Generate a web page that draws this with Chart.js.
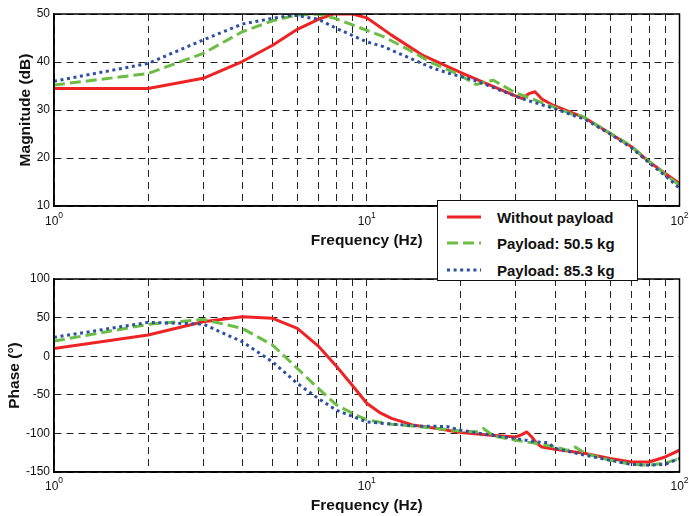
<!DOCTYPE html>
<html>
<head>
<meta charset="utf-8">
<script src="https://cdn.jsdelivr.net/npm/chart.js@4.4.1/dist/chart.umd.min.js"></script>
<style>
  html, body { margin: 0; padding: 0; background: #fff; }
  #wrap { position: relative; width: 689px; height: 516px; overflow: hidden;
          font-family: "Liberation Sans", Arial, sans-serif; }
  #wrap canvas { position: absolute; left: 0; }
  #magCanvas { top: 0; }
  #phaseCanvas { top: 258px; }
  #legend { position: absolute; left: 437px; top: 200px; width: 199px; height: 79px;
            border: 1.6px solid #111; background: #fff; z-index: 5; }
  #legend .row { position: absolute; left: 0; height: 20px; display: flex; align-items: center; }
  #legend .row svg { margin-left: 9px; }
  #legend .row span { margin-left: 16px; font-weight: bold; font-size: 15px; color: #111; white-space: nowrap; }
</style>
</head>
<body>
<div id="wrap">
  <canvas id="magCanvas" width="689" height="258"></canvas>
  <canvas id="phaseCanvas" width="689" height="258"></canvas>
  <div id="legend"></div>
</div>
<script>
// Series names
const seriesNames = ['Without payload', 'Payload: 50.5 kg', 'Payload: 85.3 kg'];

// Magnitude (dB) vs frequency (Hz)
const magFreqNoLoad = [1, 2, 3, 4, 5, 6, 7, 7.8, 9, 10, 12, 15, 20, 25, 30, 31.3, 33, 34.5, 36.3, 39.4, 50, 60, 70, 80, 90, 100];
const magNoLoad     = [34.5, 34.5, 36.6, 40.1, 43.5, 46.8, 48.9, 50, 50, 49.2, 45.6, 41.5, 37.8, 35.1, 32.9, 32.4, 33.4, 33.8, 32.3, 31.0, 28.3, 25.1, 22.4, 19.2, 16.8, 14.7];

const magFreq50 = [1, 2, 3, 4, 5, 6, 7, 8, 10, 11.3, 13.4, 16.3, 19.4, 22.4, 24, 25.4, 27, 30.1, 35.8, 42, 45.7, 48, 50, 60, 70, 80, 90, 100];
const mag50     = [35.2, 37.6, 41.8, 46.3, 48.6, 49.8, 50, 49.0, 46.6, 45.3, 42.8, 39.7, 37.6, 35.3, 35.9, 36.2, 35.2, 33.5, 31.7, 30.0, 29.0, 28.9, 28.3, 25.2, 22.5, 19.3, 16.6, 14.3];

const magFreq85 = [1, 2, 3, 4, 5, 5.8, 7, 8, 10, 11.3, 13.4, 16.3, 18.4, 22, 30.1, 32.3, 39.4, 50, 60, 70, 80, 90, 100];
const mag85     = [36.0, 39.7, 44.6, 47.9, 49.1, 49.8, 48.9, 47.0, 44.2, 43.2, 41.1, 38.7, 37.6, 36.25, 32.8, 32.1, 30.4, 28.0, 25.0, 22.2, 19.0, 16.3, 13.7];

// Phase (degrees) vs frequency (Hz)
const phFreqNoLoad = [1, 2, 3, 4, 5, 6, 7, 8, 9, 10, 11, 12, 14, 17, 20, 25, 30, 31.3, 32.5, 33.7, 35, 36.3, 40, 50, 60, 70, 80, 90, 100];
const phNoLoad     = [10.1, 27.4, 44.6, 51.1, 49.0, 36.0, 13.1, -13, -38, -61, -73, -80.5, -89, -94, -99, -102.4, -104.6, -101.5, -98.1, -104.6, -113.2, -117.6, -120.5, -126, -132.6, -137, -137, -130.5, -121.8];

const phFreq50 = [1, 2, 3, 4, 5, 6, 7, 8, 9, 10, 12, 15, 20, 22.4, 23.6, 25, 26, 30, 35, 40, 44, 46.4, 50, 60, 70, 80, 90, 100];
const ph50     = [19.6, 41.2, 47.7, 36.0, 14.4, -15.9, -41.8, -63, -74, -82.5, -88.1, -91.6, -97, -98, -93.7, -101, -104, -108.9, -113.2, -117.6, -122, -117.6, -126, -134.8, -140, -141.3, -138.3, -132.6];

const phFreq85 = [1, 2, 3, 4, 5, 6, 7, 8, 10, 12, 15, 18, 20, 25, 30, 35, 38, 40, 50, 60, 70, 80, 90, 100];
const ph85     = [24.4, 43.8, 41.6, 18.7, -7.4, -35.3, -54.8, -70, -85.1, -88.1, -90.7, -91, -95.9, -102.4, -106.7, -111, -112, -119.3, -128.3, -134.8, -140, -141.3, -140, -132.6];

// Axis ticks
const decadeTicks = [1, 10, 100];
const freqGridTicks = [1, 2, 3, 4, 5, 6, 7, 8, 9, 10, 20, 30, 40, 50, 60, 70, 80, 90, 100];
const magTicks = [10, 20, 30, 40, 50];
const phaseTicks = [-150, -100, -50, 0, 50, 100];

const lineStyles = [
  { color: '#ee2424', dash: [],       order: 3 },
  { color: '#6cbd45', dash: [11, 5],  order: 2 },
  { color: '#2d4fa5', dash: [3, 3.6], order: 1 }
];

const FONT = '"Liberation Sans", Arial, sans-serif';

function toPoints(xs, ys) { return xs.map((x, i) => ({ x: x, y: ys[i] })); }

function makeDatasets(pairs) {
  return pairs.map((p, i) => ({
    label: seriesNames[i],
    data: toPoints(p[0], p[1]),
    borderColor: lineStyles[i].color,
    backgroundColor: lineStyles[i].color,
    borderDash: lineStyles[i].dash,
    borderWidth: 3,
    borderCapStyle: 'butt',
    borderJoinStyle: 'round',
    pointRadius: 0,
    tension: 0,
    fill: false,
    order: lineStyles[i].order
  }));
}

// Frame box, decade labels with exponents, and axis titles
const framePlugin = {
  id: 'frame',
  afterDraw(chart, args, opts) {
    const { ctx, chartArea: a, scales } = chart;
    ctx.save();
    ctx.strokeStyle = '#000';
    ctx.lineWidth = 1.5;
    ctx.setLineDash([]);
    ctx.strokeRect(a.left, a.top, a.right - a.left, a.bottom - a.top);

    ctx.fillStyle = '#111';
    const xs = scales.x;
    decadeTicks.forEach(v => {
      const px = xs.getPixelForValue(v);
      const exp = String(Math.round(Math.log10(v)));
      ctx.font = '12px ' + FONT;
      const wBase = ctx.measureText('10').width;
      ctx.font = '8.5px ' + FONT;
      const wExp = ctx.measureText(exp).width;
      const x0 = px - (wBase + wExp) / 2;
      ctx.textAlign = 'left';
      ctx.textBaseline = 'middle';
      ctx.font = '12px ' + FONT;
      ctx.fillText('10', x0, a.bottom + opts.tickOffset);
      ctx.font = '8.5px ' + FONT;
      ctx.fillText(exp, x0 + wBase, a.bottom + opts.tickOffset - 6);
    });

    ctx.font = 'bold 15.5px ' + FONT;
    ctx.textAlign = 'center';
    ctx.textBaseline = 'middle';
    ctx.fillText(opts.xTitle, (a.left + a.right) / 2, a.bottom + opts.xTitleOffset);

    ctx.translate(opts.yTitleX, (a.top + a.bottom) / 2);
    ctx.rotate(-Math.PI / 2);
    ctx.fillText(opts.yTitle, 0, 0);
    ctx.restore();
  }
};

function makeChart(canvasId, datasets, yMin, yMax, yTicks, pad, xAxisHeight, frameOpts) {
  return new Chart(document.getElementById(canvasId), {
    type: 'line',
    data: { datasets: datasets },
    plugins: [framePlugin],
    options: {
      responsive: false,
      animation: false,
      devicePixelRatio: 1,
      layout: { padding: pad },
      plugins: {
        legend: { display: false },
        tooltip: { enabled: false },
        frame: frameOpts
      },
      scales: {
        x: {
          type: 'logarithmic',
          min: 1,
          max: 100,
          afterBuildTicks: s => { s.ticks = freqGridTicks.map(v => ({ value: v })); },
          afterFit: s => { s.height = xAxisHeight; },
          ticks: { display: false, autoSkip: false },
          grid: { color: '#222', lineWidth: 1, drawTicks: false },
          border: { display: true, color: '#000', width: 1.5, dash: [7, 5] }
        },
        y: {
          min: yMin,
          max: yMax,
          afterBuildTicks: s => { s.ticks = yTicks.map(v => ({ value: v })); },
          afterFit: s => { s.width = 54; },
          ticks: { color: '#111', padding: 4, font: { family: FONT, size: 12 } },
          grid: { color: '#222', lineWidth: 1, drawTicks: false },
          border: { display: true, color: '#000', width: 1.5, dash: [7, 5] }
        }
      }
    }
  });
}

makeChart('magCanvas',
  makeDatasets([[magFreqNoLoad, magNoLoad], [magFreq50, mag50], [magFreq85, mag85]]),
  10, 50, magTicks,
  { left: 0, right: 9.5, top: 14, bottom: 0 }, 52,
  { xTitle: 'Frequency (Hz)', yTitle: 'Magnitude (dB)', yTitleX: 26, tickOffset: 16, xTitleOffset: 35 });

makeChart('phaseCanvas',
  makeDatasets([[phFreqNoLoad, phNoLoad], [phFreq50, ph50], [phFreq85, ph85]]),
  -150, 100, phaseTicks,
  { left: 0, right: 9.5, top: 21, bottom: 0 }, 44,
  { xTitle: 'Frequency (Hz)', yTitle: 'Phase (°)', yTitleX: 15, tickOffset: 15, xTitleOffset: 34 });

// Legend box shared by both panels
const legend = document.getElementById('legend');
const rowTops = [6, 32, 59];
seriesNames.forEach((name, i) => {
  const row = document.createElement('div');
  row.className = 'row';
  row.style.top = rowTops[i] + 'px';
  const dash = lineStyles[i].dash.length ? lineStyles[i].dash.join(',') : 'none';
  row.innerHTML =
    '<svg width="34" height="6"><line x1="0" y1="3" x2="34" y2="3" stroke="' + lineStyles[i].color +
    '" stroke-width="3" stroke-dasharray="' + dash + '"/></svg><span>' + name + '</span>';
  legend.appendChild(row);
});
</script>
</body>
</html>
